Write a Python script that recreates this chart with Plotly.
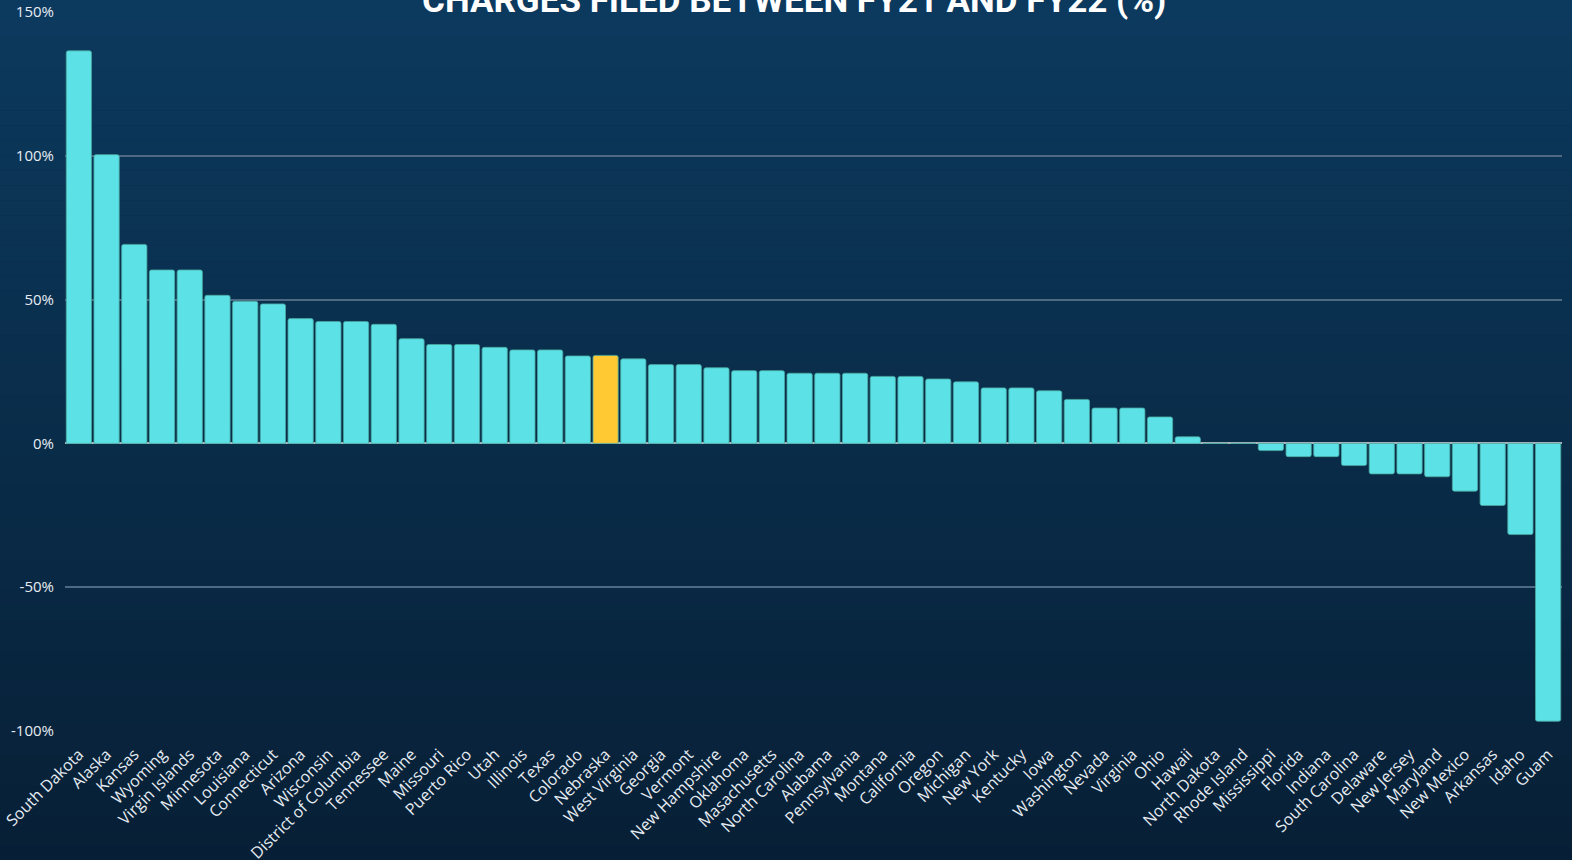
import plotly.graph_objects as go

states = ["South Dakota", "Alaska", "Kansas", "Wyoming", "Virgin Islands", "Minnesota", "Louisiana",
          "Connecticut", "Arizona", "Wisconsin", "District of Columbia", "Tennessee", "Maine", "Missouri",
          "Puerto Rico", "Utah", "Illinois", "Texas", "Colorado", "Nebraska", "West Virginia", "Georgia",
          "Vermont", "New Hampshire", "Oklahoma", "Masachusetts", "North Carolina", "Alabama",
          "Pennsylvania", "Montana", "California", "Oregon", "Michigan", "New York", "Kentucky", "Iowa",
          "Washington", "Nevada", "Virginia", "Ohio", "Hawaii", "North Dakota", "Rhode Island",
          "Mississippi", "Florida", "Indiana", "South Carolina", "Delaware", "New Jersey", "Maryland",
          "New Mexico", "Arkansas", "Idaho", "Guam"]
change_pct = [136.5, 100.4, 69.2, 60.3, 60.3, 51.5, 49.4, 48.5, 43.4, 42.4, 42.4, 41.4, 36.4, 34.4,
              34.4, 33.4, 32.5, 32.5, 30.4, 30.6, 29.4, 27.4, 27.4, 26.3, 25.3, 25.3, 24.4, 24.4,
              24.4, 23.3, 23.3, 22.4, 21.4, 19.3, 19.3, 18.3, 15.3, 12.3, 12.3, 9.2, 2.3, 0, 0,
              -2.5, -4.6, -4.6, -7.7, -10.6, -10.6, -11.6, -16.6, -21.6, -31.7, -96.6]
highlight = "Nebraska"
y_ticks = [-100, -50, 0, 50, 100, 150]
y_tick_text = ["-100%", "-50%", "0%", "50%", "100%", "150%"]
title_text = "CHARGES FILED BETWEEN FY21 AND FY22 (%)"

base_color = "#5ce1e6"
hi_color = "#ffc933"
colors = [hi_color if s == highlight else base_color for s in states]

fig = go.Figure()
fig.add_trace(go.Bar(
    x=states, y=change_pct,
    marker=dict(color=colors, line=dict(color="#4aa8a0", width=0.8)),
    hoverinfo="x+y",
))

# vertical gradient background
top = (12, 58, 95)
bot = (7, 31, 53)
n = 60
shapes = []
for i in range(n):
    t = i / (n - 1)
    c = tuple(round(top[k] + (bot[k] - top[k]) * t) for k in range(3))
    shapes.append(dict(type="rect", xref="paper", yref="paper", layer="below",
                       x0=-0.1, x1=1.1, y0=1.05 - (i + 1) * 1.25 / n, y1=1.05 - i * 1.25 / n,
                       fillcolor="rgb(%d,%d,%d)" % c, line=dict(width=0)))

fig.update_layout(
    width=1572, height=860,
    margin=dict(l=65, r=10, t=12, b=129),
    paper_bgcolor="rgb(10,44,73)",
    plot_bgcolor="rgba(0,0,0,0)",
    shapes=shapes,
    bargap=0.09,
    barcornerradius=2,
    showlegend=False,
    font=dict(family="Open Sans, sans-serif", color="#e6ecf2", size=15),
    xaxis=dict(tickangle=-45, showgrid=False, tickfont=dict(size=16, color="#e6ecf2"),
               ticks="", showline=False, zeroline=False, fixedrange=True, automargin=False,
               ticklabelstandoff=10),
    yaxis=dict(range=[-100, 150], tickvals=y_ticks, ticktext=y_tick_text,
               showgrid=True, gridcolor="#4e6a82", gridwidth=1.5,
               zeroline=True, zerolinecolor="#aab4bd", zerolinewidth=2, automargin=False,
               tickfont=dict(size=15, color="#e6ecf2"), ticks="", ticklabelstandoff=10),
    annotations=[dict(text="<b>" + title_text + "</b>", xref="paper", yref="paper",
                      x=0.487, y=1, yanchor="bottom", xanchor="center", yshift=-11,
                      showarrow=False,
                      font=dict(family="Roboto, sans-serif", size=35, color="#ffffff"))],
)

inner = fig.to_html(full_html=False, include_plotlyjs=True, config={"displayModeBar": False})
page = ("<!DOCTYPE html><html><head><meta charset='utf-8'>"
        "<style>html,body{margin:0;padding:0;overflow:hidden;background:#071f35;}</style>"
        "</head><body>" + inner + "</body></html>")
with open("out.html", "w", encoding="utf-8") as f:
    f.write(page)
